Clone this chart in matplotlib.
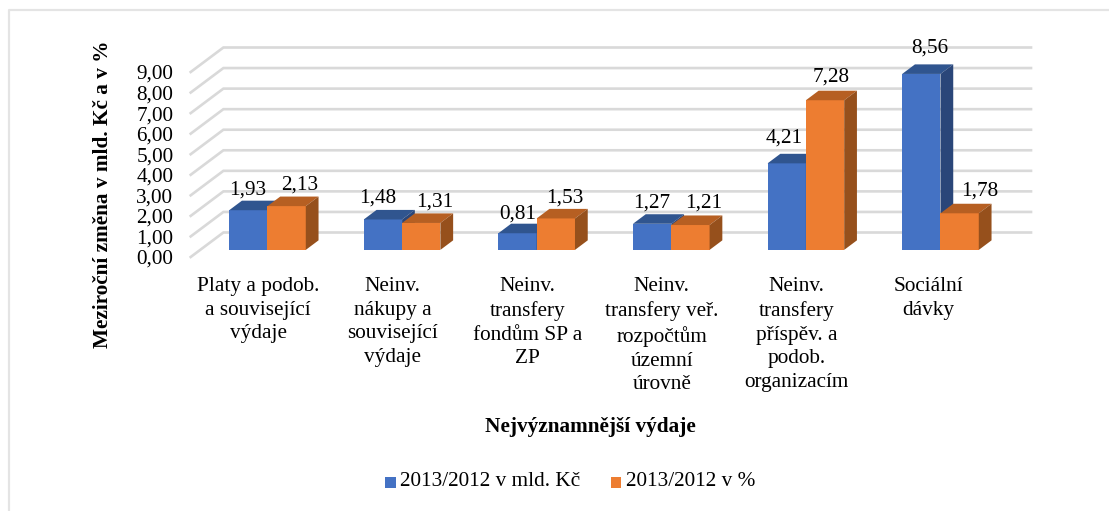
import matplotlib
matplotlib.use("Agg")
import matplotlib.pyplot as plt
from matplotlib.patches import Polygon, Rectangle
from matplotlib.transforms import ScaledTranslation

plt.rcParams['font.family'] = ['Liberation Serif', 'DejaVu Serif']

# Data
categories = [
    "Platy a podob.\na související\nvýdaje",
    "Neinv.\nnákupy a\nsouvisející\nvýdaje",
    "Neinv.\ntransfery\nfondům SP a\nZP",
    "Neinv.\ntransfery veř.\nrozpočtům\núzemní\núrovně",
    "Neinv.\ntransfery\npříspěv. a\npodob.\norganizacím",
    "Sociální\ndávky",
]
values_czk = [1.93, 1.48, 0.81, 1.27, 4.21, 8.56]
values_pct = [2.13, 1.31, 1.53, 1.21, 7.28, 1.78]
series_names = ["2013/2012 v mld. Kč", "2013/2012 v %"]
y_ticks = [0, 1, 2, 3, 4, 5, 6, 7, 8, 9]

W, H = 1109, 511
BLUE = ("#4472c4", "#30558f", "#2a4679")
ORANGE = ("#ed7d31", "#b65f22", "#96501c")
GRID = "#d9d9d9"
FS = 15.3

# front plane of the fake 3d box, in pixels
LEFT, RIGHT, BOTTOM, TOP = 190.7, 998.3, 257.0, 72.0
DEPTH_X, DEPTH_Y = 32.7, 24.5
BAR_WIDTH = 38.3

# label nudges in pixels, (dx, dy from the bar top)
offsets_czk = [(-1, 16), (-5, 16.5), (0, 15), (0, 16), (-3, 21), (8, 21.7)]
offsets_pct = [(13, 17), (14, 16), (9, 16), (13, 17), (6, 19), (20, 18)]

fig = plt.figure(figsize=(W / 100, H / 100), dpi=100)
ax = fig.add_axes([LEFT / W, 1 - BOTTOM / H, (RIGHT - LEFT) / W, (BOTTOM - TOP) / H])
ax.set_xlim(-0.5, 5.5)
ax.set_ylim(0, 9)
ax.patch.set_alpha(0)
for s in ax.spines.values():
    s.set_visible(False)

ppx = (5.5 + 0.5) / (RIGHT - LEFT)  # data units per pixel
ppy = 9 / (BOTTOM - TOP)


def depth(frac):
    return DEPTH_X * frac * ppx, DEPTH_Y * frac * ppy


# back wall and side wall gridlines
bx, by = depth(1)
for t in y_ticks:
    ax.plot([-0.5, -0.5 + bx, 5.5 + bx], [t, t + by, t + by], color=GRID, lw=1.9,
            clip_on=False, zorder=1, solid_joinstyle="miter")


def bar3d(xc, val, colors, z):
    fx, fy = depth(0.29)
    dx, dy = depth(0.39)
    w = BAR_WIDTH * ppx
    x0, x1 = xc + fx, xc + fx + w
    ax.add_patch(Rectangle((x0, fy), w, val, fc=colors[0], ec="none", clip_on=False, zorder=z))
    ax.add_patch(Polygon([(x0, fy + val), (x1, fy + val), (x1 + dx, fy + val + dy), (x0 + dx, fy + val + dy)],
                         fc=colors[1], ec="none", clip_on=False, zorder=z))
    ax.add_patch(Polygon([(x1, fy), (x1 + dx, fy + dy), (x1 + dx, fy + val + dy), (x1, fy + val)],
                         fc=colors[2], ec="none", clip_on=False, zorder=z))
    return (x0 + x1) / 2, fy + val


for i in range(len(categories)):
    w = BAR_WIDTH * ppx
    cx, ty = bar3d(i - w, values_czk[i], BLUE, 3)
    ax.annotate(f"{values_czk[i]:.2f}".replace(".", ","), (cx, ty), xytext=offsets_czk[i],
                textcoords="offset pixels", ha="center", va="baseline", fontsize=FS, color="black", zorder=6)
    cx, ty = bar3d(i, values_pct[i], ORANGE, 4)
    ax.annotate(f"{values_pct[i]:.2f}".replace(".", ","), (cx, ty), xytext=offsets_pct[i],
                textcoords="offset pixels", ha="center", va="baseline", fontsize=FS, color="black", zorder=6)

ax.set_yticks(y_ticks)
ax.set_yticklabels([f"{t:.2f}".replace(".", ",") for t in y_ticks], fontsize=FS)
ax.set_xticks(range(len(categories)))
ax.set_xticklabels(categories, fontsize=FS, linespacing=1.33)
ax.tick_params(axis="both", length=0)
ax.tick_params(axis="x", pad=14.5)
ax.tick_params(axis="y", pad=12.5)

# the last category sits a bit left of its slot
lbl = ax.get_xticklabels()[-1]
lbl.set_transform(lbl.get_transform() + ScaledTranslation(-3 / 100, 0, fig.dpi_scale_trans))

fig.text(103 / W, 1 - 194 / H, "Meziroční změna v mld. Kč a v %", rotation=90, ha="center", va="center",
         fontsize=FS, fontweight="bold")
fig.text(590 / W, 1 - 427 / H, "Nejvýznamnější výdaje", ha="center", va="center",
         fontsize=FS, fontweight="bold")

# legend
for name, col, sx, tx in zip(series_names, (BLUE[0], ORANGE[0]), (385, 610.7), (400.5, 626)):
    fig.add_artist(Rectangle((sx / W, 1 - 488.3 / H), 10.5 / W, 11 / H, fc=col, ec="none", transform=fig.transFigure))
    fig.text(tx / W, 1 - 482 / H, name, ha="left", va="center", fontsize=FS)

# outer frame, only the left and top edges show
fig.add_artist(plt.Line2D([8.5 / W, 8.5 / W, 1], [0, 1 - 10.5 / H, 1 - 10.5 / H], color="#e4e4e4", lw=1.6))

fig.savefig("out.png", dpi=100)
